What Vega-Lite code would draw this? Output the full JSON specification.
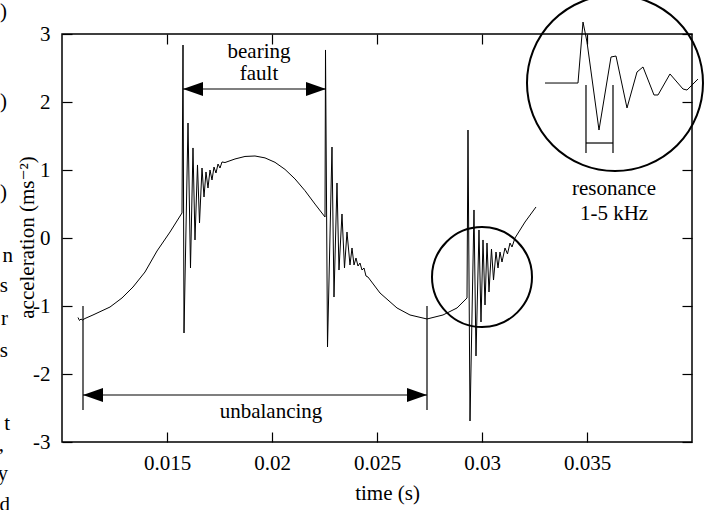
{
  "$schema": "https://vega.github.io/schema/vega-lite/v6.json",
  "width": 630,
  "height": 408,
  "autosize": {"type": "none"},
  "padding": {"left": 62, "top": 34, "right": 29, "bottom": 68},
  "background": "white",
  "config": {
    "font": "Liberation Serif, Times New Roman, DejaVu Serif, serif",
    "view": {"stroke": "black", "strokeWidth": 1.5},
    "axis": {
      "labelFont": "Liberation Serif, Times New Roman, DejaVu Serif, serif", "labelFontSize": 21, "labelColor": "black",
      "titleFont": "Liberation Serif, Times New Roman, DejaVu Serif, serif", "titleFontSize": 21, "titleFontWeight": "normal", "titleColor": "black",
      "tickColor": "black", "tickWidth": 1.2, "tickSize": -10, "domain": false, "grid": false,
      "labelFlush": false, "labelOverlap": false, "labelBound": false
    }
  },
  "datasets": {
    "signal": [
      {"t":0.010762,"a":-1.169},{"t":0.010833,"a":-1.213},{"t":0.010905,"a":-1.191},{"t":0.010976,"a":-1.206},
      {"t":0.011095,"a":-1.184},{"t":0.011476,"a":-1.132},{"t":0.012286,"a":-1.015},{"t":0.012857,"a":-0.882},
      {"t":0.013381,"a":-0.721},{"t":0.013952,"a":-0.5},{"t":0.014524,"a":-0.191},{"t":0.015143,"a":0.088},
      {"t":0.015714,"a":0.368},{"t":0.015762,"a":2.838},{"t":0.01581,"a":-1.397},{"t":0.016,"a":1.691},
      {"t":0.016119,"a":-0.441},{"t":0.016238,"a":1.324},{"t":0.016333,"a":-0.029},{"t":0.016452,"a":1.074},
      {"t":0.016548,"a":0.221},{"t":0.016667,"a":1.029},{"t":0.016762,"a":0.603},{"t":0.016857,"a":0.971},
      {"t":0.016952,"a":0.735},{"t":0.017048,"a":1.0},{"t":0.017143,"a":0.853},{"t":0.017238,"a":1.044},
      {"t":0.017333,"a":0.956},{"t":0.017429,"a":1.088},{"t":0.017524,"a":1.029},{"t":0.017619,"a":1.118},
      {"t":0.017762,"a":1.11},{"t":0.018238,"a":1.162},{"t":0.018714,"a":1.199},{"t":0.01919,"a":1.206},
      {"t":0.019667,"a":1.178},{"t":0.020143,"a":1.113},{"t":0.020619,"a":1.009},{"t":0.021095,"a":0.869},
      {"t":0.021571,"a":0.696},{"t":0.022048,"a":0.499},{"t":0.022524,"a":0.309},{"t":0.022548,"a":2.765},
      {"t":0.022643,"a":-1.603},{"t":0.022857,"a":1.338},{"t":0.022952,"a":-0.868},{"t":0.023095,"a":0.809},
      {"t":0.02319,"a":-0.471},{"t":0.023333,"a":0.353},{"t":0.023452,"a":-0.441},{"t":0.023571,"a":0.088},
      {"t":0.023714,"a":-0.397},{"t":0.02381,"a":-0.147},{"t":0.023905,"a":-0.397},{"t":0.024,"a":-0.294},
      {"t":0.024095,"a":-0.412},{"t":0.02419,"a":-0.368},{"t":0.024286,"a":-0.471},{"t":0.024381,"a":-0.441},
      {"t":0.024476,"a":-0.559},{"t":0.024571,"a":-0.574},{"t":0.025143,"a":-0.809},{"t":0.025952,"a":-1.029},
      {"t":0.026571,"a":-1.132},{"t":0.027381,"a":-1.191},{"t":0.028143,"a":-1.132},{"t":0.02881,"a":-1.029},
      {"t":0.029286,"a":-0.882},{"t":0.029333,"a":1.588},{"t":0.029429,"a":-2.691},{"t":0.029619,"a":0.412},
      {"t":0.029714,"a":-1.735},{"t":0.029857,"a":0.118},{"t":0.029952,"a":-1.235},{"t":0.030048,"a":-0.029},
      {"t":0.030143,"a":-0.985},{"t":0.030238,"a":-0.074},{"t":0.030333,"a":-0.794},{"t":0.030452,"a":-0.162},
      {"t":0.030548,"a":-0.618},{"t":0.030667,"a":-0.206},{"t":0.030762,"a":-0.441},{"t":0.030857,"a":-0.206},
      {"t":0.030952,"a":-0.353},{"t":0.031095,"a":-0.147},{"t":0.031214,"a":-0.235},{"t":0.031333,"a":-0.074},
      {"t":0.031429,"a":-0.132},{"t":0.031571,"a":0.0},{"t":0.032048,"a":0.235},{"t":0.032571,"a":0.456}
    ],
    "inset": [
      {"t":0.033,"a":2.279},{"t":0.034571,"a":2.279},{"t":0.03481,"a":3.176},{"t":0.035,"a":2.882},
      {"t":0.035571,"a":1.588},{"t":0.036143,"a":2.662},{"t":0.036381,"a":2.676},{"t":0.036905,"a":1.912},
      {"t":0.037381,"a":2.441},{"t":0.037667,"a":2.515},{"t":0.03819,"a":2.103},{"t":0.038381,"a":2.103},
      {"t":0.038952,"a":2.412},{"t":0.039571,"a":2.191},{"t":0.039762,"a":2.176},{"t":0.040286,"a":2.338}
    ],
    "segments": [
      {"x":0.015762,"x2":0.022571,"y":2.191,"y2":2.191},
      {"x":0.011,"x2":0.027381,"y":-2.309,"y2":-2.309},
      {"x":0.011,"x2":0.011,"y":-1.0,"y2":-2.529},
      {"x":0.027381,"x2":0.027381,"y":-1.0,"y2":-2.529},
      {"x":0.034952,"x2":0.034952,"y":2.25,"y2":1.25},
      {"x":0.036238,"x2":0.036238,"y":2.25,"y2":1.25},
      {"x":0.034952,"x2":0.036238,"y":1.397,"y2":1.397}
    ],
    "heads": [
      {"x":0.016238,"y":2.191,"dir":"L"},
      {"x":0.022095,"y":2.191,"dir":"R"},
      {"x":0.011476,"y":-2.309,"dir":"L"},
      {"x":0.026905,"y":-2.309,"dir":"R"}
    ],
    "bigcircle": [{"x":0.036333,"y":2.279}],
    "smallcircle": [{"x":0.03,"y":-0.574}],
    "labels": [
      {"x":0.019381,"y":2.65,"text":"bearing"},
      {"x":0.019381,"y":2.324,"text":"fault"},
      {"x":0.019952,"y":-2.647,"text":"unbalancing"},
      {"x":0.036286,"y":0.632,"text":"resonance"},
      {"x":0.036286,"y":0.265,"text":"1-5 kHz"}
    ],
    "side": [
      {"x":0.007381,"y":3.235,"text":")"},
      {"x":0.007381,"y":1.912,"text":")"},
      {"x":0.007381,"y":0.574,"text":")"},
      {"x":0.007667,"y":-0.353,"text":"n"},
      {"x":0.007429,"y":-0.794,"text":"s"},
      {"x":0.007429,"y":-1.279,"text":"r"},
      {"x":0.007429,"y":-1.75,"text":"s"},
      {"x":0.007524,"y":-2.824,"text":"t"},
      {"x":0.007238,"y":-3.132,"text":","},
      {"x":0.007429,"y":-3.559,"text":"y"},
      {"x":0.007524,"y":-4.015,"text":"d"}
    ]
  },
  "layer": [
    {
      "data": {"name": "signal"},
      "mark": {"type": "line", "color": "black", "strokeWidth": 1, "clip": false},
      "encoding": {
        "x": {"field": "t", "type": "quantitative", "scale": {"domain": [0.01, 0.04], "nice": false, "zero": false},
              "axis": {"orient": "bottom", "values": [0.015, 0.02, 0.025, 0.03, 0.035], "format": "~g", "labelPadding": 20,
                       "title": "time (s)", "titleX": 325, "titleY": 57, "titleBaseline": "alphabetic", "titleAlign": "center", "titleAnchor": null}},
        "y": {"field": "a", "type": "quantitative", "scale": {"domain": [-3, 3], "nice": false, "zero": false},
              "axis": {"orient": "left", "values": [-3, -2, -1, 0, 1, 2, 3], "labelPadding": 22,
                       "labelExpr": "datum.value < 0 ? '-' + abs(datum.value) : '' + datum.value",
                       "title": "acceleration (ms⁻²)", "titleAngle": -90, "titleX": -29, "titleY": 203,
                       "titleBaseline": "alphabetic", "titleAlign": "center"}}
      }
    },
    {
      "data": {"name": "inset"},
      "mark": {"type": "line", "color": "black", "strokeWidth": 1, "clip": false},
      "encoding": {
        "x": {"field": "t", "type": "quantitative", "scale": {"domain": [0.01, 0.04], "nice": false, "zero": false},
              "axis": {"orient": "top", "values": [0.015, 0.02, 0.025, 0.03, 0.035], "labels": false, "title": null}},
        "y": {"field": "a", "type": "quantitative", "scale": {"domain": [-3, 3], "nice": false, "zero": false},
              "axis": {"orient": "right", "values": [-3, -2, -1, 0, 1, 2, 3], "labels": false, "title": null}}
      }
    },
    {
      "data": {"name": "segments"},
      "mark": {"type": "rule", "color": "black", "strokeWidth": 1.2, "clip": false},
      "encoding": {
        "x": {"field": "x", "type": "quantitative", "axis": null},
        "x2": {"field": "x2"},
        "y": {"field": "y", "type": "quantitative", "axis": null},
        "y2": {"field": "y2"}
      }
    },
    {
      "data": {"name": "heads"},
      "mark": {"type": "point", "filled": true, "color": "black", "size": 400, "opacity": 1, "clip": false},
      "encoding": {
        "x": {"field": "x", "type": "quantitative", "axis": null},
        "y": {"field": "y", "type": "quantitative", "axis": null},
        "shape": {"field": "dir", "type": "nominal", "legend": null,
                  "scale": {"domain": ["L", "R"], "range": ["M-1,0L1,-0.7L1,0.7Z", "M1,0L-1,-0.7L-1,0.7Z"]}}
      }
    },
    {
      "data": {"name": "bigcircle"},
      "mark": {"type": "point", "shape": "circle", "filled": false, "color": "black", "strokeWidth": 2, "size": 30976, "opacity": 1, "clip": false},
      "encoding": {
        "x": {"field": "x", "type": "quantitative", "axis": null},
        "y": {"field": "y", "type": "quantitative", "axis": null}
      }
    },
    {
      "data": {"name": "smallcircle"},
      "mark": {"type": "point", "shape": "circle", "filled": false, "color": "black", "strokeWidth": 2, "size": 10000, "opacity": 1, "clip": false},
      "encoding": {
        "x": {"field": "x", "type": "quantitative", "axis": null},
        "y": {"field": "y", "type": "quantitative", "axis": null}
      }
    },
    {
      "data": {"name": "labels"},
      "mark": {"type": "text", "font": "Liberation Serif, Times New Roman, DejaVu Serif, serif", "fontSize": 21, "color": "black", "align": "center", "baseline": "alphabetic", "clip": false},
      "encoding": {
        "x": {"field": "x", "type": "quantitative", "axis": null},
        "y": {"field": "y", "type": "quantitative", "axis": null},
        "text": {"field": "text"}
      }
    },
    {
      "data": {"name": "side"},
      "mark": {"type": "text", "font": "Liberation Serif, Times New Roman, DejaVu Serif, serif", "fontSize": 21, "color": "black", "align": "right", "baseline": "alphabetic", "clip": false},
      "encoding": {
        "x": {"field": "x", "type": "quantitative", "axis": null},
        "y": {"field": "y", "type": "quantitative", "axis": null},
        "text": {"field": "text"}
      }
    }
  ],
  "resolve": {"axis": {"x": "independent", "y": "independent"}}
}
